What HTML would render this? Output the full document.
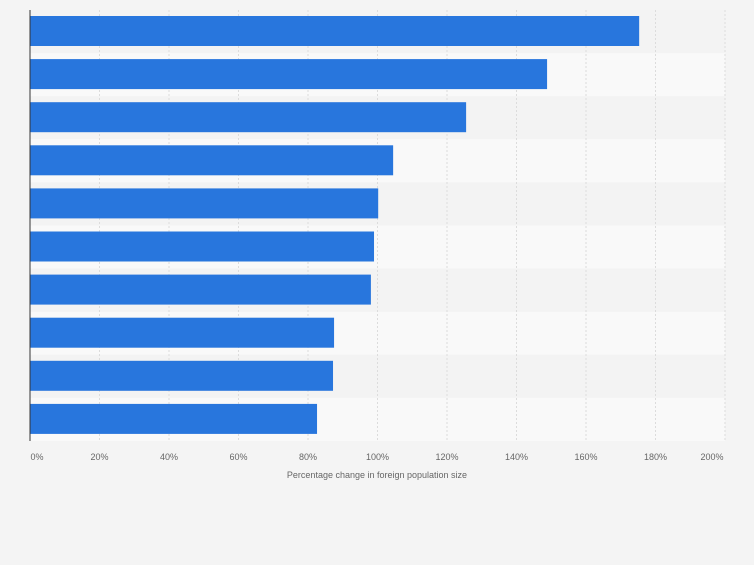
<!DOCTYPE html>
<html><head><meta charset="utf-8"><style>
body{margin:0;background:#f4f4f4;font-family:"Liberation Sans",sans-serif}
</style></head><body>
<svg id="c" width="754" height="560" xmlns="http://www.w3.org/2000/svg"></svg>
<script>
const categories=["A","B","C","D","E","F","G","H","I","J"];
const values=[175.3,148.8,125.5,104.5,100.2,99,98.1,87.5,87.2,82.6];
const ticks=[0,20,40,60,80,100,120,140,160,180,200];
const tickLabels=["0%","20%","40%","60%","80%","100%","120%","140%","160%","180%","200%"];
const svgEl=document.getElementById('c');
const NS="http://www.w3.org/2000/svg";
const x0=30,x1=725,yTop=10,yBottom=441;
const xs=v=>x0+(v/200)*(x1-x0);
const rowH=(yBottom-yTop)/categories.length;
function mk(t,a){const e=document.createElementNS(NS,t);for(const k in a)e.setAttribute(k,a[k]);svgEl.appendChild(e);return e;}
categories.forEach((c,i)=>{
  const r=mk('rect',{x:x0,y:yTop+i*rowH,width:x1-x0,height:rowH,fill:i%2?'#f9f9f9':'#f3f3f3'});
  
  
});
ticks.forEach((t,i)=>{
  const l=mk('line',{x1:xs(t),x2:xs(t),y1:yTop,y2:yBottom,stroke:'#dcdcdc','stroke-dasharray':'2,2','stroke-width':1});
  
  
  let tx=xs(t);if(i===0)tx+=7;if(i===ticks.length-1)tx-=13;
  const tl=mk('text',{x:tx,y:460,'font-size':9,fill:'#666','text-anchor':'middle'});
  tl.textContent=tickLabels[i];
  
  
});
values.forEach((v,i)=>{
  const b=mk('rect',{x:x0,y:yTop+i*rowH+6,width:xs(v)-x0,height:30,fill:'#2876dd'});
  
  
});
const ax=mk('line',{x1:x0,x2:x0,y1:yTop,y2:yBottom,stroke:'#333','stroke-width':1});


const tt=mk('text',{x:377,y:478,'font-size':9,fill:'#666','text-anchor':'middle'});
tt.textContent='Percentage change in foreign population size';


</script>
</body></html>
